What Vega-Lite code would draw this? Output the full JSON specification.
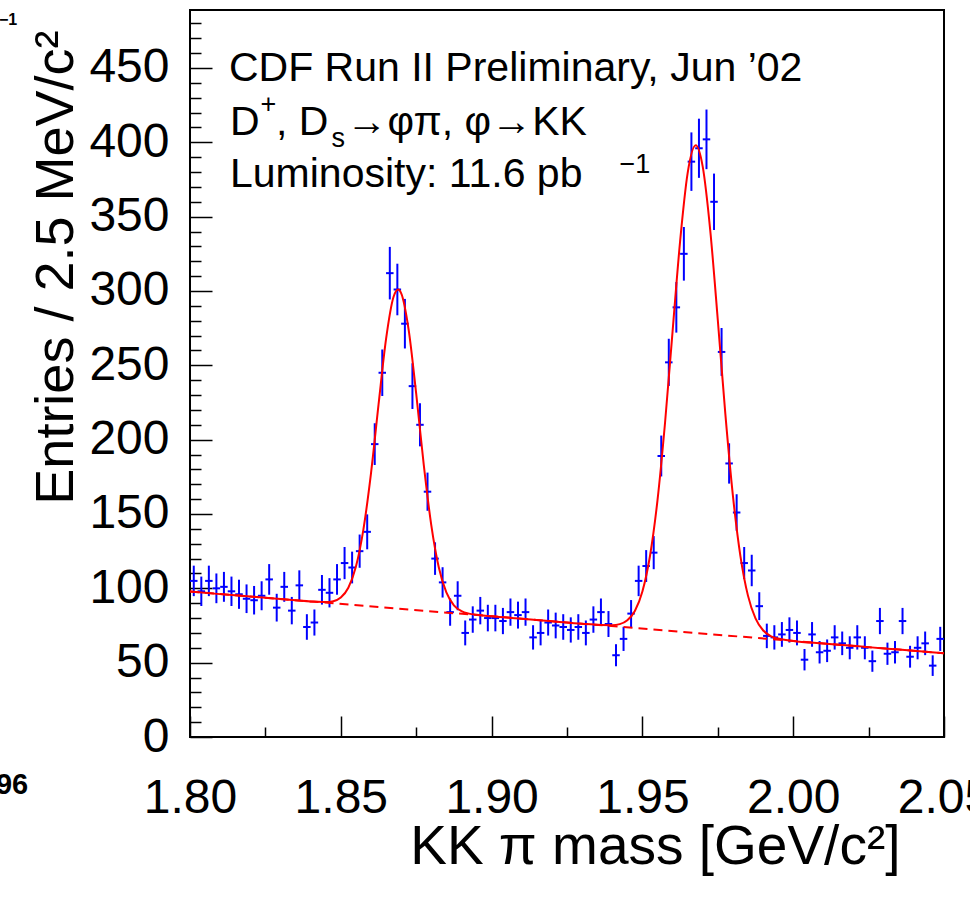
{
  "$schema": "https://vega.github.io/schema/vega-lite/v6.json",
  "width": 754,
  "height": 727,
  "autosize": {"type": "none"},
  "padding": {"left": 190, "top": 10, "right": 26, "bottom": 162},
  "background": "white",
  "config": {"view": {"stroke": "black", "strokeWidth": 2}, "font": "Liberation Sans"},
  "datasets": {
    "pts": [
      {"m":1.80125,"n":105,"lo":94.75,"hi":115.25},{"m":1.80375,"n":98,"lo":88.1,"hi":107.9},{"m":1.80625,"n":105,"lo":94.75,"hi":115.25},{"m":1.80875,"n":100,"lo":90,"hi":110},{"m":1.81125,"n":101,"lo":90.95,"hi":111.05},
      {"m":1.81375,"n":98,"lo":88.1,"hi":107.9},{"m":1.81625,"n":96,"lo":86.2,"hi":105.8},{"m":1.81875,"n":93,"lo":83.36,"hi":102.64},{"m":1.82125,"n":92,"lo":82.41,"hi":101.59},{"m":1.82375,"n":95,"lo":85.25,"hi":104.75},
      {"m":1.82625,"n":106,"lo":95.7,"hi":116.3},{"m":1.82875,"n":87,"lo":77.67,"hi":96.33},{"m":1.83125,"n":101,"lo":90.95,"hi":111.05},{"m":1.83375,"n":85,"lo":75.78,"hi":94.22},{"m":1.83625,"n":102,"lo":91.9,"hi":112.1},
      {"m":1.83875,"n":74,"lo":65.4,"hi":82.6},{"m":1.84125,"n":77,"lo":68.23,"hi":85.77},{"m":1.84375,"n":99,"lo":89.05,"hi":108.95},{"m":1.84625,"n":97,"lo":87.15,"hi":106.85},{"m":1.84875,"n":106,"lo":95.7,"hi":116.3},
      {"m":1.85125,"n":117,"lo":106.18,"hi":127.82},{"m":1.85375,"n":114,"lo":103.32,"hi":124.68},{"m":1.85625,"n":125,"lo":113.82,"hi":136.18},{"m":1.85875,"n":138,"lo":126.25,"hi":149.75},{"m":1.86125,"n":197,"lo":182.96,"hi":211.04},
      {"m":1.86375,"n":245,"lo":229.35,"hi":260.65},{"m":1.86625,"n":312,"lo":294.34,"hi":329.66},{"m":1.86875,"n":301,"lo":283.65,"hi":318.35},{"m":1.87125,"n":278,"lo":261.33,"hi":294.67},{"m":1.87375,"n":236,"lo":220.64,"hi":251.36},
      {"m":1.87625,"n":210,"lo":195.51,"hi":224.49},{"m":1.87875,"n":165,"lo":152.15,"hi":177.85},{"m":1.88125,"n":120,"lo":109.05,"hi":130.95},{"m":1.88375,"n":104,"lo":93.8,"hi":114.2},{"m":1.88625,"n":84,"lo":74.83,"hi":93.17},
      {"m":1.88875,"n":95,"lo":85.25,"hi":104.75},{"m":1.89125,"n":70,"lo":61.63,"hi":78.37},{"m":1.89375,"n":79,"lo":70.11,"hi":87.89},{"m":1.89625,"n":85,"lo":75.78,"hi":94.22},{"m":1.89875,"n":80,"lo":71.06,"hi":88.94},
      {"m":1.90125,"n":80,"lo":71.06,"hi":88.94},{"m":1.90375,"n":78,"lo":69.17,"hi":86.83},{"m":1.90625,"n":84,"lo":74.83,"hi":93.17},{"m":1.90875,"n":82,"lo":72.94,"hi":91.06},{"m":1.91125,"n":84,"lo":74.83,"hi":93.17},
      {"m":1.91375,"n":67,"lo":58.81,"hi":75.19},{"m":1.91625,"n":70,"lo":61.63,"hi":78.37},{"m":1.91875,"n":77,"lo":68.23,"hi":85.77},{"m":1.92125,"n":75,"lo":66.34,"hi":83.66},{"m":1.92375,"n":74,"lo":65.4,"hi":82.6},
      {"m":1.92625,"n":72,"lo":63.51,"hi":80.49},{"m":1.92875,"n":74,"lo":65.4,"hi":82.6},{"m":1.93125,"n":70,"lo":61.63,"hi":78.37},{"m":1.93375,"n":79,"lo":70.11,"hi":87.89},{"m":1.93625,"n":84,"lo":74.83,"hi":93.17},
      {"m":1.93875,"n":76,"lo":67.28,"hi":84.72},{"m":1.94125,"n":55,"lo":47.58,"hi":62.42},{"m":1.94375,"n":66,"lo":57.88,"hi":74.12},{"m":1.94625,"n":83,"lo":73.89,"hi":92.11},{"m":1.94875,"n":105,"lo":94.75,"hi":115.25},
      {"m":1.95125,"n":115,"lo":104.28,"hi":125.72},{"m":1.95375,"n":124,"lo":112.86,"hi":135.14},{"m":1.95625,"n":189,"lo":175.25,"hi":202.75},{"m":1.95875,"n":252,"lo":236.13,"hi":267.87},{"m":1.96125,"n":289,"lo":272,"hi":306},
      {"m":1.96375,"n":325,"lo":306.97,"hi":343.03},{"m":1.96625,"n":387,"lo":367.33,"hi":406.67},{"m":1.96875,"n":396,"lo":376.1,"hi":415.9},{"m":1.97125,"n":402,"lo":381.95,"hi":422.05},{"m":1.97375,"n":360,"lo":341.03,"hi":378.97},
      {"m":1.97625,"n":259,"lo":242.91,"hi":275.09},{"m":1.97875,"n":184,"lo":170.44,"hi":197.56},{"m":1.98125,"n":151,"lo":138.71,"hi":163.29},{"m":1.98375,"n":117,"lo":106.18,"hi":127.82},{"m":1.98625,"n":112,"lo":101.42,"hi":122.58},
      {"m":1.98875,"n":88,"lo":78.62,"hi":97.38},{"m":1.99125,"n":68,"lo":59.75,"hi":76.25},{"m":1.99375,"n":67,"lo":58.81,"hi":75.19},{"m":1.99625,"n":69,"lo":60.69,"hi":77.31},{"m":1.99875,"n":72,"lo":63.51,"hi":80.49},
      {"m":2.00125,"n":70,"lo":61.63,"hi":78.37},{"m":2.00375,"n":52,"lo":44.79,"hi":59.21},{"m":2.00625,"n":69,"lo":60.69,"hi":77.31},{"m":2.00875,"n":57,"lo":49.45,"hi":64.55},{"m":2.01125,"n":58,"lo":50.38,"hi":65.62},
      {"m":2.01375,"n":67,"lo":58.81,"hi":75.19},{"m":2.01625,"n":63,"lo":55.06,"hi":70.94},{"m":2.01875,"n":60,"lo":52.25,"hi":67.75},{"m":2.02125,"n":67,"lo":58.81,"hi":75.19},{"m":2.02375,"n":60,"lo":52.25,"hi":67.75},
      {"m":2.02625,"n":51,"lo":43.86,"hi":58.14},{"m":2.02875,"n":78,"lo":69.17,"hi":86.83},{"m":2.03125,"n":56,"lo":48.52,"hi":63.48},{"m":2.03375,"n":57,"lo":49.45,"hi":64.55},{"m":2.03625,"n":78,"lo":69.17,"hi":86.83},
      {"m":2.03875,"n":54,"lo":46.65,"hi":61.35},{"m":2.04125,"n":60,"lo":52.25,"hi":67.75},{"m":2.04375,"n":63,"lo":55.06,"hi":70.94},{"m":2.04625,"n":48,"lo":41.07,"hi":54.93},{"m":2.04875,"n":66,"lo":57.88,"hi":74.12}
    ],
    "bkg": [{"m":1.80,"b":97.8},{"m":2.05,"b":56.3}],
    "fit": [
      {"m":1.80,"f":97.8},{"m":1.81,"f":96.1},{"m":1.82,"f":94.5},{"m":1.83,"f":92.8},{"m":1.84,"f":91.2},{"m":1.845,"f":90.75},
      {"m":1.8475,"f":91.37},{"m":1.85,"f":93.83},{"m":1.8525,"f":100.4},{"m":1.855,"f":114.5},{"m":1.8575,"f":139.7},{"m":1.86,"f":177.2},
      {"m":1.8625,"f":223.4},{"m":1.865,"f":267.6},{"m":1.8675,"f":296.1},{"m":1.869,"f":301.0},{"m":1.87,"f":298.6},{"m":1.8725,"f":273.9},
      {"m":1.875,"f":230.9},{"m":1.8775,"f":183.2},{"m":1.88,"f":142.5},{"m":1.8825,"f":114.0},{"m":1.885,"f":97.2},{"m":1.8875,"f":88.6},
      {"m":1.89,"f":84.7},{"m":1.8925,"f":83.0},{"m":1.895,"f":82.2},{"m":1.90,"f":81.2},{"m":1.91,"f":79.5},{"m":1.92,"f":77.9},{"m":1.93,"f":76.2},
      {"m":1.94,"f":75.2},{"m":1.9425,"f":75.9},{"m":1.945,"f":78.5},{"m":1.9475,"f":84.8},{"m":1.95,"f":97.9},{"m":1.9525,"f":121.6},
      {"m":1.955,"f":159.2},{"m":1.9575,"f":211.2},{"m":1.96,"f":272.7},{"m":1.9625,"f":333.4},{"m":1.965,"f":379.3},{"m":1.9677,"f":398.0},
      {"m":1.97,"f":383.6},{"m":1.9725,"f":340.6},{"m":1.975,"f":280.5},{"m":1.9775,"f":217.3},{"m":1.98,"f":162.5},{"m":1.9825,"f":121.7},
      {"m":1.985,"f":95.1},{"m":1.9875,"f":79.8},{"m":1.99,"f":71.8},{"m":1.9925,"f":67.9},{"m":1.995,"f":66.2},{"m":2.00,"f":64.6},
      {"m":2.01,"f":62.9},{"m":2.02,"f":61.3},{"m":2.03,"f":59.6},{"m":2.04,"f":58.0},{"m":2.05,"f":56.3}
    ],
    "txtBig": [
      {"t":"CDF Run II Preliminary, Jun ’02","m":1.81291,"v":441.4},
      {"t":"D","m":1.81325,"v":404.9},
      {"t":", D","m":1.82848,"v":404.9},
      {"t":"→φπ, φ→KK","m":1.85189,"v":404.9},
      {"t":"Luminosity: 11.6 pb","m":1.81325,"v":370.2}
    ],
    "txtSmall": [
      {"t":"+","m":1.82334,"v":419.7},
      {"t":"s","m":1.84692,"v":396.9},
      {"t":"−1","m":1.94239,"v":379.4}
    ],
    "frag1": [{"t":"−1","m":1.74271,"v":479.0}],
    "frag2": [{"t":"96","m":1.74636,"v":-38.3}]
  },
  "resolve": {"axis": {"x": "independent", "y": "independent"}},
  "layer": [
    {
      "data": {"name": "pts"},
      "mark": {"type": "rule", "color": "#0000ff", "strokeWidth": 2},
      "encoding": {
        "x": {"field": "m", "type": "quantitative",
          "scale": {"domain": [1.8, 2.05], "nice": false, "zero": false},
          "axis": {"orient": "bottom", "values": [1.8, 1.85, 1.9, 1.95, 2.0, 2.05], "format": ".2f",
            "tickSize": -21, "tickWidth": 1.5, "tickColor": "black", "domain": false, "grid": false,
            "labelFontSize": 48, "labelColor": "black", "labelPadding": 58, "labelFlush": false, "labelOverlap": false,
            "title": "KK π mass [GeV/c²]", "titleFontSize": 55, "titleFontWeight": "normal", "titleColor": "black",
            "titleX": 710, "titleY": 126, "titleAlign": "right", "titleBaseline": "alphabetic"}},
        "y": {"field": "lo", "type": "quantitative",
          "scale": {"domain": [0, 489], "nice": false},
          "axis": {"orient": "left", "values": [0, 50, 100, 150, 200, 250, 300, 350, 400, 450],
            "tickSize": -22, "tickWidth": 1.5, "tickColor": "black", "domain": false, "grid": false,
            "labelFontSize": 48, "labelColor": "black", "labelPadding": 43, "labelFlush": false, "labelOverlap": false,
            "title": "Entries / 2.5 MeV/c²", "titleFontSize": 54, "titleFontWeight": "normal", "titleColor": "black",
            "titleX": -118, "titleY": 20, "titleAlign": "right", "titleBaseline": "alphabetic", "titleAngle": 270}},
        "y2": {"field": "hi"}
      }
    },
    {
      "data": {"name": "pts"},
      "mark": {"type": "tick", "orient": "horizontal", "size": 7.5, "thickness": 2, "color": "#0000ff", "opacity": 1},
      "encoding": {
        "x": {"field": "m", "type": "quantitative",
          "axis": {"orient": "bottom", "values": [1.825, 1.875, 1.925, 1.975, 2.025], "tickSize": -10, "tickWidth": 1.5,
            "tickColor": "black", "labels": false, "domain": false, "grid": false, "title": null}},
        "y": {"field": "n", "type": "quantitative",
          "axis": {"orient": "left", "values": [10,20,30,40,60,70,80,90,110,120,130,140,160,170,180,190,210,220,230,240,260,270,280,290,310,320,330,340,360,370,380,390,410,420,430,440,460,470,480],
            "tickSize": -11, "tickWidth": 1.5, "tickColor": "black", "labels": false, "domain": false, "grid": false, "title": null}}
      }
    },
    {
      "data": {"name": "bkg"},
      "mark": {"type": "line", "color": "#ff0000", "strokeWidth": 2, "strokeDash": [9, 6]},
      "encoding": {
        "x": {"field": "m", "type": "quantitative", "axis": null},
        "y": {"field": "b", "type": "quantitative", "axis": null}
      }
    },
    {
      "data": {"name": "fit"},
      "mark": {"type": "line", "color": "#ff0000", "strokeWidth": 2, "interpolate": "monotone"},
      "encoding": {
        "x": {"field": "m", "type": "quantitative", "axis": null},
        "y": {"field": "f", "type": "quantitative", "axis": null}
      }
    },
    {
      "data": {"name": "txtBig"},
      "mark": {"type": "text", "align": "left", "baseline": "alphabetic", "fontSize": 41, "color": "black"},
      "encoding": {
        "x": {"field": "m", "type": "quantitative", "axis": null},
        "y": {"field": "v", "type": "quantitative", "axis": null},
        "text": {"field": "t"}
      }
    },
    {
      "data": {"name": "txtSmall"},
      "mark": {"type": "text", "align": "left", "baseline": "alphabetic", "fontSize": 27, "color": "black"},
      "encoding": {
        "x": {"field": "m", "type": "quantitative", "axis": null},
        "y": {"field": "v", "type": "quantitative", "axis": null},
        "text": {"field": "t"}
      }
    },
    {
      "data": {"name": "frag1"},
      "mark": {"type": "text", "align": "right", "baseline": "alphabetic", "fontSize": 16, "fontWeight": "bold", "color": "black"},
      "encoding": {
        "x": {"field": "m", "type": "quantitative", "axis": null},
        "y": {"field": "v", "type": "quantitative", "axis": null},
        "text": {"field": "t"}
      }
    },
    {
      "data": {"name": "frag2"},
      "mark": {"type": "text", "align": "right", "baseline": "alphabetic", "fontSize": 29, "fontWeight": "bold", "color": "black"},
      "encoding": {
        "x": {"field": "m", "type": "quantitative", "axis": null},
        "y": {"field": "v", "type": "quantitative", "axis": null},
        "text": {"field": "t"}
      }
    }
  ]
}
